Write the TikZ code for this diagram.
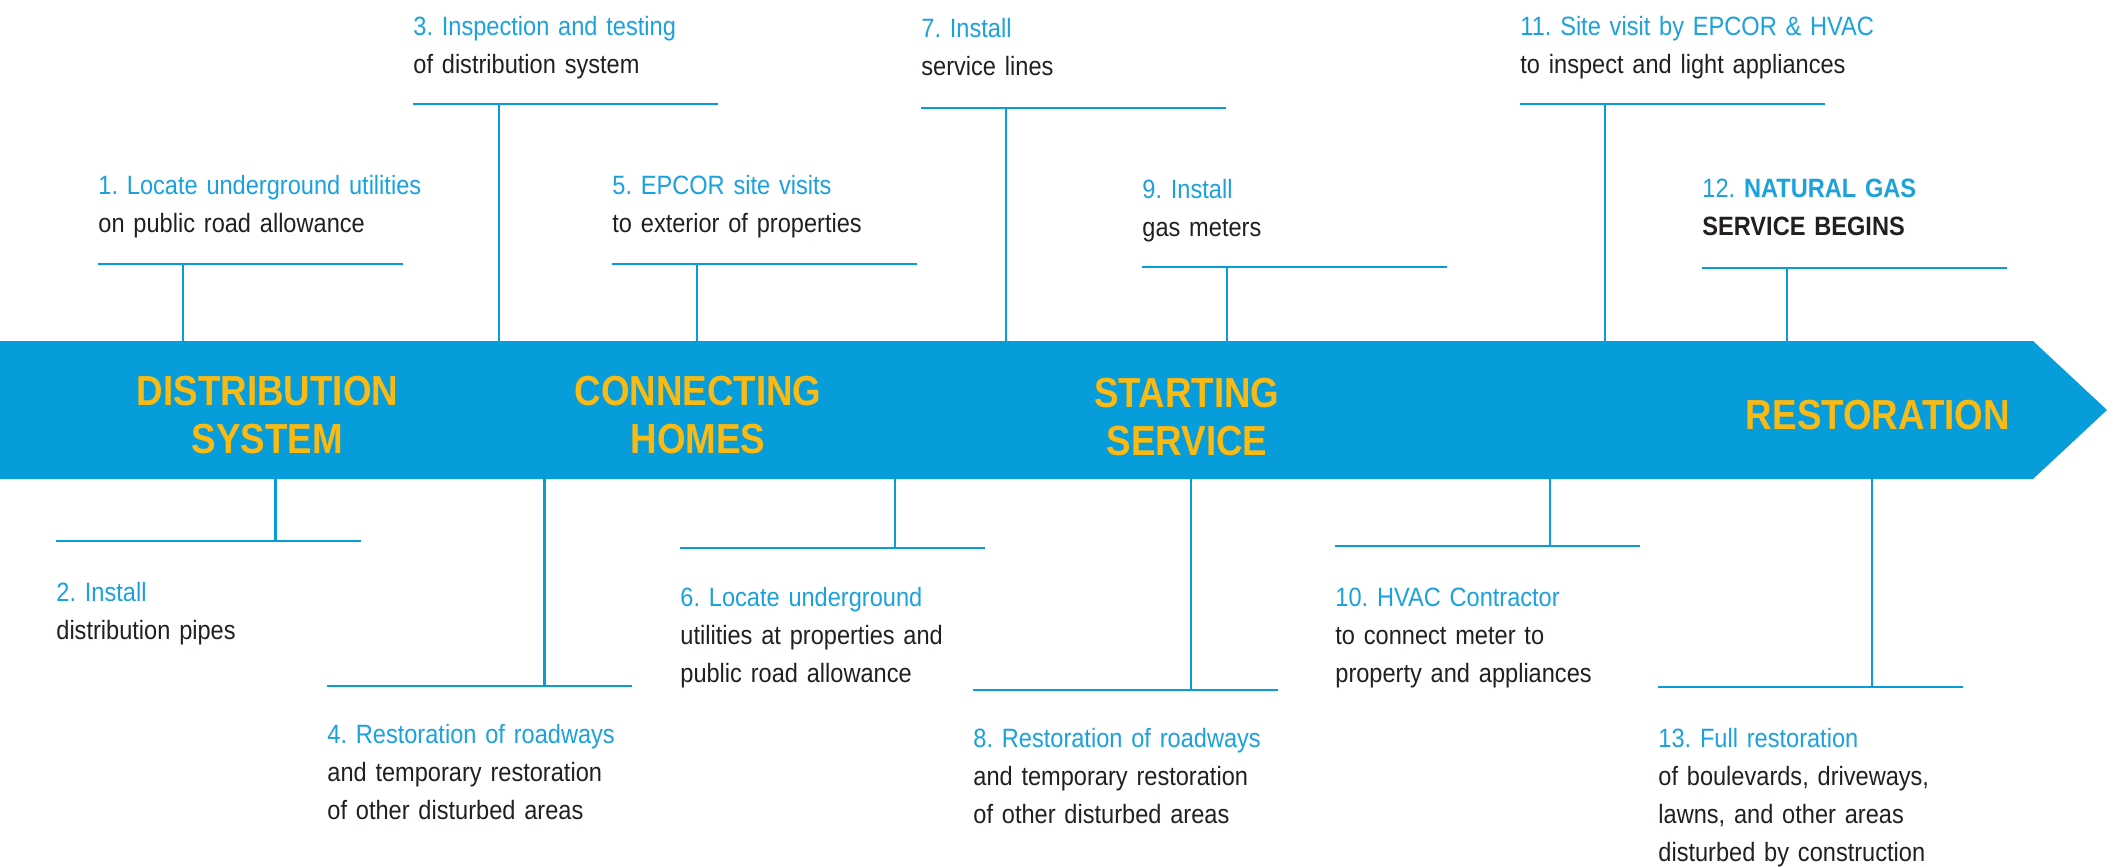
\documentclass[tikz,border=0pt]{standalone}
\usepackage{fontspec}
\setmainfont{Liberation Sans}
\newfontfamily\itemfont[FakeStretch=0.89,WordSpace=0.68]{Liberation Sans}
\newfontfamily\bandfont[FakeStretch=0.875]{Liberation Sans}
\definecolor{bandblue}{HTML}{069DDA}
\definecolor{steptext}{HTML}{1BA1DC}
\definecolor{darktext}{HTML}{231F20}
\definecolor{phase}{HTML}{FBBA12}
\tikzset{
  bar/.style={draw=bandblue, line width=1.1pt},
  stepnote/.style={anchor=base west, inner sep=0pt, text width=190pt, align=left,
    text=darktext, font=\itemfont\frenchspacing\fontsize{13.25}{19}\selectfont},
  phaselabel/.style={anchor=base, inner sep=0pt, text width=200pt, align=center,
    text=phase, font=\bandfont\bfseries\fontsize{21}{24}\selectfont},
}
\newcommand\hd[1]{\textcolor{steptext}{#1}}
\begin{document}
\begin{tikzpicture}[x=0.5pt,y=-0.5pt]
\useasboundingbox (0,0) rectangle (2122,867);
% timeline band with arrow head
\coordinate (bandnw) at (0,341);
\coordinate (bandne) at (2033,341);
\coordinate (tip) at (2107,410);
\coordinate (bandse) at (2033,479);
\coordinate (bandsw) at (0,479);
\fill[bandblue] (bandnw) -- (bandne) -- (tip) -- (bandse) -- (bandsw) -- cycle;

% T-shaped markers: step / bar left / bar right / bar y / stem x / band edge y
\foreach \n/\l/\r/\y/\s/\e in {
  1/98/403/264/183/341, 3/413/718/104/499/341, 5/612/917/264/697/341,
  7/921/1226/108/1006/341, 9/1142/1447/267/1227/341, 11/1520/1825/104/1605/341,
  12/1702/2007/268/1787/341,
  2/56/361/541/275.5/479, 4/327/632/686/544.5/479, 6/680/985/548/895/479,
  8/973/1278/690/1191/479, 10/1335/1640/546/1550/479, 13/1658/1963/687/1872/479}{
  \coordinate (bl\n) at (\l,\y);
  \coordinate (br\n) at (\r,\y);
  \coordinate (j\n) at (\s,\y);
  \coordinate (e\n) at (\s,\e);
  \draw[bar] (bl\n) -- (br\n);
  \draw[bar] (j\n) -- (e\n);
}

% phase labels
\node[phaselabel] (p1) at (267.5,405) {DISTRIBUTION\\SYSTEM};
\node[phaselabel] (p2) at (698,405) {CONNECTING\\HOMES};
\node[phaselabel] (p3) at (1187,407) {STARTING\\SERVICE};
\node[phaselabel] (p4) at (1878,429) {RESTORATION};

% steps above the band
\node[stepnote] (s1) at (98,194) {\hd{1. Locate underground utilities}\\on public road allowance};
\node[stepnote] (s3) at (413,35) {\hd{3. Inspection and testing}\\of distribution system};
\node[stepnote] (s5) at (612,194) {\hd{5. EPCOR site visits}\\to exterior of properties};
\node[stepnote] (s7) at (921,38) {\hd{7. Install}\\service lines};
\node[stepnote] (s9) at (1142,198) {\hd{9. Install}\\gas meters};
\node[stepnote] (s11) at (1520,35) {\hd{11. Site visit by EPCOR \& HVAC}\\to inspect and light appliances};
\node[stepnote] (s12) at (1702,197) {\hd{12. \textbf{NATURAL GAS}}\\\textbf{SERVICE BEGINS}};

% steps below the band
\node[stepnote] (s2) at (56,601) {\hd{2. Install}\\distribution pipes};
\node[stepnote] (s4) at (327,743) {\hd{4. Restoration of roadways}\\and temporary restoration\\of other disturbed areas};
\node[stepnote] (s6) at (680,606) {\hd{6. Locate underground}\\utilities at properties and\\public road allowance};
\node[stepnote] (s8) at (973,747) {\hd{8. Restoration of roadways}\\and temporary restoration\\of other disturbed areas};
\node[stepnote] (s10) at (1335,606) {\hd{10. HVAC Contractor}\\to connect meter to\\property and appliances};
\node[stepnote] (s13) at (1658,747) {\hd{13. Full restoration}\\of boulevards, driveways,\\lawns, and other areas\\disturbed by construction};
\end{tikzpicture}
\end{document}
